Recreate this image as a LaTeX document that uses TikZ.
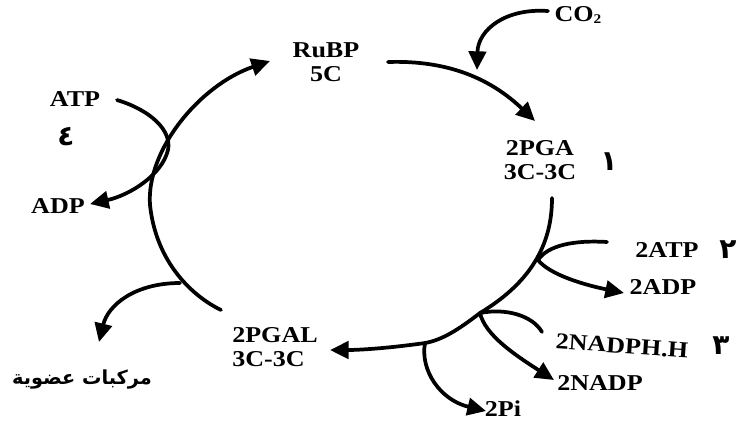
\documentclass[tikz,border=0pt]{standalone}
\usepackage{fontspec}
\setmainfont{Liberation Serif}[FakeStretch=1.15]
\newfontfamily\arabicfont[Script=Arabic]{DejaVu Sans}
\TeXXeTstate=1
\usetikzlibrary{arrows.meta}
\begin{document}
\begin{tikzpicture}[x=0.75pt,y=-0.75pt,
  lbl/.style={font=\bfseries\fontsize{17}{18}\selectfont, inner sep=0pt, align=center},
  num/.style={font=\arabicfont\bfseries\fontsize{21}{21}\selectfont, inner sep=0pt},
  flow/.style={line width=2.8pt, line cap=round, -{Triangle[length=14pt,width=13pt]}},
  plain/.style={line width=2.8pt, line cap=round}]
\useasboundingbox (0,0) rectangle (736,429);
% labels
\node[lbl] (rubp) at (326,62) {RuBP\\5C};
\node[lbl] (pga) at (540,160) {2PGA\\3C-3C};
\node[lbl, align=left] (pgal) at (275,347) {2PGAL\\3C-3C};
\node[lbl] (co2) at (578,15) {CO\raisebox{-1pt}{\fontsize{10}{10}\selectfont 2}};
\node[lbl] (atp) at (75,99) {ATP};
\node[lbl] (adp) at (58,206) {ADP};
\node[lbl] (atp2) at (667,250) {2ATP};
\node[lbl] (adp2) at (663,287) {2ADP};
\node[lbl, rotate=-4] (nadph) at (622,346) {2NADPH.H};
\node[lbl] (nadp) at (600,383) {2NADP};
\node[lbl] (pi) at (503,409) {2Pi};
\node[inner sep=0pt, font=\arabicfont\bfseries\fontsize{14.5}{15}\selectfont] (org) at (82,380) {\beginR مركبات عضوية\endR};
\node[num] (n1) at (609,162) {١};
\node[num] (n2) at (728,250) {٢};
\node[num] (n3) at (721,346) {٣};
\node[num] (n4) at (66,137) {٤};
% connector end points
\coordinate (rubpout) at (388,62);
\coordinate (pgain) at (535,121);
\coordinate (co2out) at (548,11);
\coordinate (co2in) at (477,70);
\coordinate (pgaout) at (552,198);
\coordinate (j1) at (538,260);
\coordinate (j2) at (480,313);
\coordinate (j3) at (425,343);
\coordinate (pgalin) at (330,350);
\coordinate (pgalout) at (221,310);
\coordinate (jorg) at (180,283);
\coordinate (rubpin) at (270,61);
\coordinate (atpout) at (117,100);
\coordinate (adpin) at (90,204);
\coordinate (atp2out) at (607,242);
\coordinate (adp2in) at (624,293);
\coordinate (nadphout) at (542,332);
\coordinate (nadpin) at (554,380);
\coordinate (piin) at (486,411);
\coordinate (orgin) at (99,342);
% cycle
\draw[flow] (rubpout) .. controls (450,60) and (492,80) .. (pgain);
\draw[flow] (co2out) .. controls (505,8) and (478,30) .. (co2in);
\draw[flow] (pgaout) .. controls (552,240) and (535,280) .. (j2)
   .. controls (458,330) and (442,340) .. (j3)
   .. controls (390,348) and (360,350) .. (pgalin);
\draw[flow] (pgalout) .. controls (192,296) and (156,262) .. (150,205)
   .. controls (146,150) and (200,85) .. (rubpin);
% side branches
\draw[plain] (atp2out) .. controls (575,240) and (548,245) .. (j1);
\draw[flow] (j1) .. controls (550,275) and (585,285) .. (adp2in);
\draw[plain] (j2) .. controls (505,308) and (532,315) .. (nadphout);
\draw[flow] (j2) .. controls (485,335) and (515,355) .. (nadpin);
\draw[flow] (j3) .. controls (420,370) and (440,400) .. (piin);
\draw[flow] (jorg) .. controls (135,283) and (108,305) .. (orgin);
\draw[flow] (atpout) .. controls (150,110) and (172,130) .. (168,150)
   .. controls (162,175) and (130,195) .. (adpin);
\end{tikzpicture}
\end{document}
